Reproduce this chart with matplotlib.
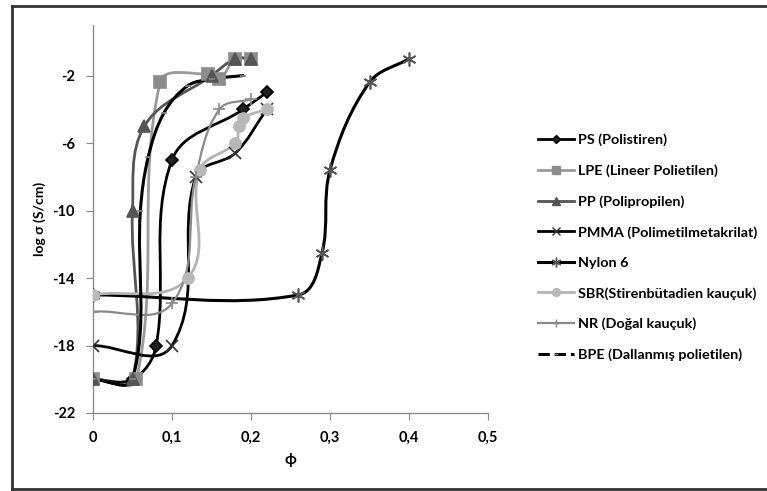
import matplotlib

matplotlib.use("Agg")
import matplotlib.pyplot as plt
import numpy as np
from matplotlib.lines import Line2D
from matplotlib.path import Path
from matplotlib.patches import PathPatch

plt.rcParams["font.family"] = ["Lato", "DejaVu Sans"]
plt.rcParams["font.weight"] = "bold"

# phi values and log conductivity for each polymer
ps_x = [0, 0.05, 0.08, 0.10, 0.19, 0.22]
ps_y = [-20, -20, -18, -7, -4, -3]

lpe_x = [0, 0.055, 0.085, 0.145, 0.16, 0.18, 0.20]
lpe_y = [-20, -20, -2.4, -1.9, -2.2, -1, -1]

pp_x = [0, 0.05, 0.05, 0.065, 0.15, 0.18, 0.20]
pp_y = [-20, -20, -10, -5, -2, -1, -1]

pmma_x = [0, 0.10, 0.13, 0.18, 0.22]
pmma_y = [-18, -18, -8, -6.6, -4]

nylon_x = [0, 0.26, 0.29, 0.30, 0.35, 0.40]
nylon_y = [-15, -15, -12.5, -7.6, -2.4, -1]

sbr_x = [0, 0.12, 0.135, 0.18, 0.185, 0.19, 0.22]
sbr_y = [-15, -14, -7.6, -6, -5, -4.5, -4]

nr_x = [0, 0.10, 0.13, 0.16, 0.20]
nr_y = [-16, -15.5, -8, -4, -3.4]

bpe_x = [0, 0.05, 0.06, 0.07, 0.09, 0.12, 0.15, 0.19]
bpe_y = [-20, -20, -10, -6.8, -4.2, -2.6, -2.2, -2]

labels = [
    "PS (Polistiren)",
    "LPE (Lineer Polietilen)",
    "PP (Polipropilen)",
    "PMMA (Polimetilmetakrilat)",
    "Nylon 6",
    "SBR(Stirenbütadien kauçuk)",
    "NR (Doğal kauçuk)",
    "BPE (Dallanmış polietilen)",
]

x_ticks = [0, 0.1, 0.2, 0.3, 0.4, 0.5]
y_ticks = [-2, -6, -10, -14, -18, -22]

# pixel size of one data unit, used so the smoothing works on screen distances
SX, SY = 790.0, 16.9


def smooth_path(xs, ys, k=0.35):
    # cardinal spline with unit tangents scaled by segment length (low overshoot)
    pts = np.column_stack([np.asarray(xs) * SX, np.asarray(ys) * SY]).astype(float)
    n = len(pts)
    tang = []
    for i in range(n):
        a = pts[max(i - 1, 0)]
        b = pts[min(i + 1, n - 1)]
        d = b - a
        norm = np.hypot(*d)
        tang.append(d / norm if norm > 0 else d)
    verts = [pts[0]]
    codes = [Path.MOVETO]
    for i in range(n - 1):
        p1, p2 = pts[i], pts[i + 1]
        L = np.hypot(*(p2 - p1))
        c1 = p1 + tang[i] * L * k
        c2 = p2 - tang[i + 1] * L * k
        verts += [c1, c2, p2]
        codes += [Path.CURVE4] * 3
    verts = np.array(verts) / np.array([SX, SY])
    return Path(verts, codes)


series = [
    (ps_x, ps_y, dict(color="#000000", marker="D", ms=6, mfc="#222222", mec="#000000", ls="-")),
    (lpe_x, lpe_y, dict(color="#9a9a9a", marker="s", ms=8, mfc="#8c8c8c", mec="#8c8c8c", ls="-")),
    (pp_x, pp_y, dict(color="#555555", marker="^", ms=8, mfc="#555555", mec="#555555", ls="-")),
    (pmma_x, pmma_y, dict(color="#000000", marker="x", ms=9, mfc="none", mec="#333333", ls="-")),
    (nylon_x, nylon_y, dict(color="#000000", marker=(6, 2, 0), ms=10, mfc="none", mec="#555555", ls="-")),
    (sbr_x, sbr_y, dict(color="#b4b4b4", marker="o", ms=8, mfc="#b8b8b8", mec="#b8b8b8", ls="-")),
    (nr_x, nr_y, dict(color="#8a8a8a", marker="+", ms=8, mfc="none", mec="#8a8a8a", ls="-")),
    (bpe_x, bpe_y, dict(color="#000000", marker="_", ms=5, mfc="none", mec="#888888", ls="--")),
]
widths = [2.0, 2.0, 2.0, 2.0, 2.2, 2.0, 1.6, 2.2]

fig = plt.figure(figsize=(7.67, 4.91), dpi=100)
ax = fig.add_axes([93 / 767, 1 - 413 / 491, (488 - 93) / 767, (413 - 25) / 491])

handles = []
for (xs, ys, st), lw in zip(series, widths):
    ax.add_patch(PathPatch(smooth_path(xs, ys), fill=False, edgecolor=st["color"],
                           lw=lw, ls="-", capstyle="round", joinstyle="round", zorder=2))
    ax.plot(xs, ys, ls="none", marker=st["marker"], ms=st["ms"], mfc=st["mfc"],
            mec=st["mec"], mew=1.2, zorder=3)
    handles.append(Line2D([], [], color=st["color"], lw=lw, ls=st["ls"], marker=st["marker"],
                          ms=st["ms"] * 0.7, mfc=st["mfc"], mec=st["mec"], mew=1.0))

ax.set_xlim(0, 0.5)
ax.set_ylim(-22, 1)
ax.set_xticks(x_ticks)
ax.set_xticklabels([f"{v:g}".replace(".", ",") for v in x_ticks])
ax.set_yticks(y_ticks)
ax.set_yticklabels([str(v) for v in y_ticks])
for side in ("top", "right"):
    ax.spines[side].set_visible(False)
for side in ("left", "bottom"):
    ax.spines[side].set_color("#8c8c8c")
    ax.spines[side].set_linewidth(1.0)
ax.tick_params(axis="both", direction="out", length=5, color="#8c8c8c",
               labelsize=10.5, pad=8)
for t in ax.get_xticklabels() + ax.get_yticklabels():
    t.set_fontweight("bold")

ax.set_xlabel("ϕ", fontsize=11, fontweight="bold", labelpad=6)
ax.set_ylabel("log σ (S/cm)", fontsize=10, fontweight="bold", labelpad=5)

leg = fig.legend(handles, labels, loc="upper left", bbox_to_anchor=(532 / 767, 1 - 128 / 491),
                 frameon=False, fontsize=10.4, handlelength=2.5, labelspacing=1.25,
                 handletextpad=0.3, borderaxespad=0)
for t in leg.get_texts():
    t.set_fontweight("bold")

# outer chart border
fx0, fy0, fy1 = 12 / 767, 1 - 489 / 491, 1 - 6 / 491
for xs, ys in (([fx0, 1.0], [fy1, fy1]), ([fx0, fx0], [fy0, fy1]), ([fx0, 1.0], [fy0, fy0])):
    fig.add_artist(Line2D(xs, ys, transform=fig.transFigure, color="#333333", lw=2.0))

fig.savefig("out.png", dpi=100)
